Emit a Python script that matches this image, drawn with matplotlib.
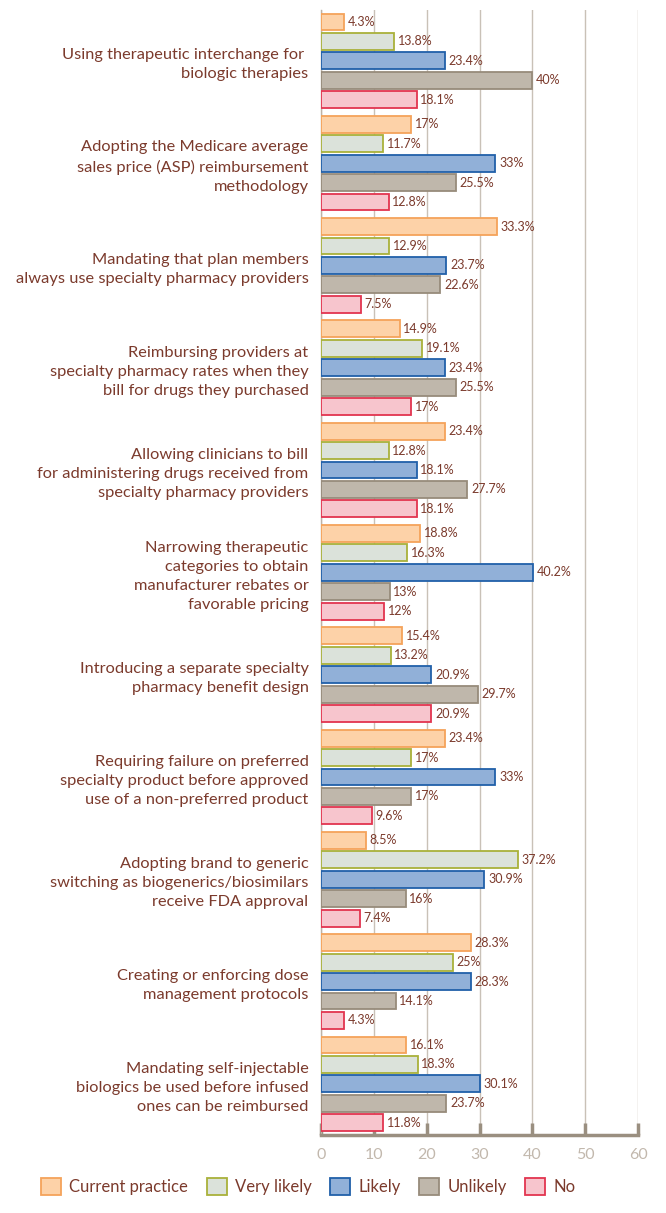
import matplotlib.pyplot as plt
import numpy as np

plt.rcParams['font.family'] = ['Lato', 'DejaVu Sans']

categories = [
    "Using therapeutic interchange for \nbiologic therapies",
    "Adopting the Medicare average\nsales price (ASP) reimbursement\nmethodology",
    "Mandating that plan members\nalways use specialty pharmacy providers",
    "Reimbursing providers at\nspecialty pharmacy rates when they\nbill for drugs they purchased",
    "Allowing clinicians to bill\nfor administering drugs received from\nspecialty pharmacy providers",
    "Narrowing therapeutic\ncategories to obtain\nmanufacturer rebates or\nfavorable pricing",
    "Introducing a separate specialty\npharmacy benefit design",
    "Requiring failure on preferred\nspecialty product before approved\nuse of a non-preferred product",
    "Adopting brand to generic\nswitching as biogenerics/biosimilars\nreceive FDA approval",
    "Creating or enforcing dose\nmanagement protocols",
    "Mandating self-injectable\nbiologics be used before infused\nones can be reimbursed",
]

series_names = ["Current practice", "Very likely", "Likely", "Unlikely", "No"]

current_practice = [4.3, 17, 33.3, 14.9, 23.4, 18.8, 15.4, 23.4, 8.5, 28.3, 16.1]
very_likely = [13.8, 11.7, 12.9, 19.1, 12.8, 16.3, 13.2, 17, 37.2, 25, 18.3]
likely = [23.4, 33, 23.7, 23.4, 18.1, 40.2, 20.9, 33, 30.9, 28.3, 30.1]
unlikely = [40, 25.5, 22.6, 25.5, 27.7, 13, 29.7, 17, 16, 14.1, 23.7]
no = [18.1, 12.8, 7.5, 17, 18.1, 12, 20.9, 9.6, 7.4, 4.3, 11.8]

faces = ["#fdd2a8", "#dbe2da", "#91b0d8", "#bfb7ab", "#f7c5cd"]
edges = ["#f5a35a", "#a9b13a", "#2160a9", "#978b7b", "#e2344f"]
text_col = "#7b3a2c"

fig = plt.figure(figsize=(6.66, 12.13), dpi=100)
ax = fig.add_axes([0.482, 0.0643, 0.476, 0.9277])

y = np.arange(len(categories))
step = 0.19
h = 0.165
all_series = [current_practice, very_likely, likely, unlikely, no]
for k, (name, vals) in enumerate(zip(series_names, all_series)):
    pos = y + (k - 2) * step
    ax.barh(pos, vals, height=h, color=faces[k], edgecolor=edges[k],
            linewidth=1.3, label=name, zorder=3)
    for p, v in zip(pos, vals):
        ax.text(v + 0.7, p, f"{v:g}%", va="center", ha="left",
                fontsize=9, color=text_col, zorder=4)

ax.set_ylim(len(categories) - 0.5, -0.5)
ax.set_xlim(0, 60)
ax.set_xticks(range(0, 61, 10))
ax.set_yticks(y)
ax.set_yticklabels(categories, fontsize=11.8, color=text_col, linespacing=1.45)
ax.tick_params(axis="y", length=0, pad=9)
ax.tick_params(axis="x", direction="in", length=9, width=2.5, color="#9a8f80",
               labelcolor="#c2b8ad", labelsize=11.5, pad=9)
ax.grid(axis="x", color="#c9c1b7", linewidth=1, zorder=0)
for s in ["top", "right"]:
    ax.spines[s].set_visible(False)
ax.spines["bottom"].set_color("#9a8f80")
ax.spines["bottom"].set_linewidth(2.5)
ax.spines["left"].set_color("#bdb3a7")
ax.spines["left"].set_linewidth(1)

fig.legend(loc="center", bbox_to_anchor=(0.463, 0.022), ncol=5, frameon=False,
           fontsize=12, labelcolor=text_col, handlelength=1.2, handleheight=1.2,
           columnspacing=1.1, handletextpad=0.5)

fig.savefig("out.png", dpi=100)
